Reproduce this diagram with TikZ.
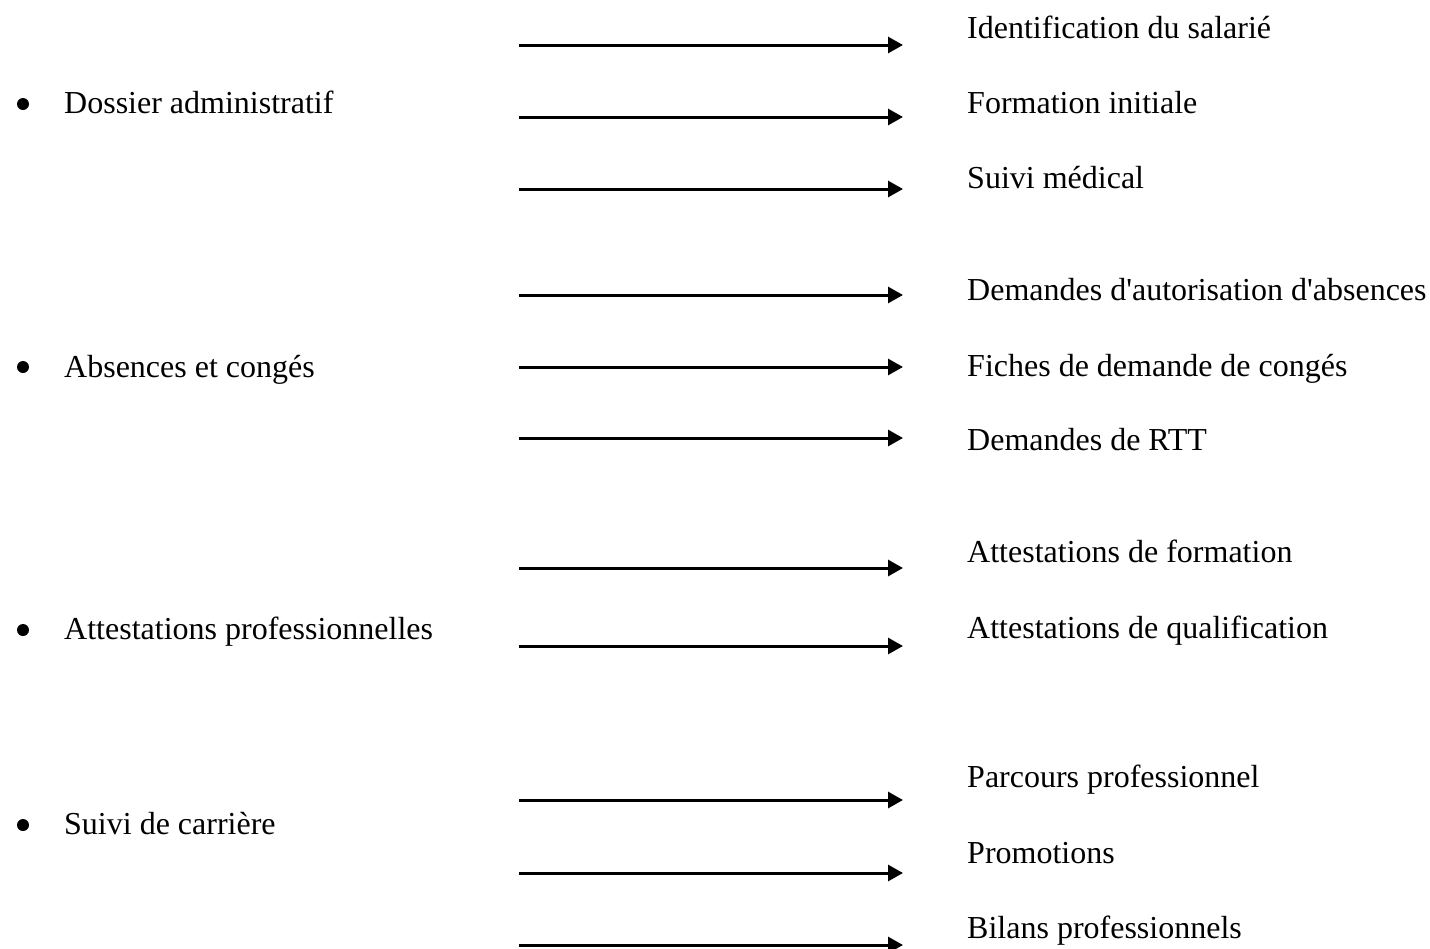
\documentclass[tikz,border=0pt]{standalone}
\usepackage{fontspec}
\setmainfont{Liberation Serif}
\usetikzlibrary{arrows.meta}
\begin{document}
\begin{tikzpicture}[x=1pt,y=-1pt,
  lbl/.style={anchor=base west,inner sep=0pt,font=\fontsize{32}{38}\selectfont},
  arr/.style={line width=3pt,-{Triangle[length=15pt,width=16pt]}},
  bul/.style={circle,fill=black,inner sep=0pt,minimum size=12pt}]
\useasboundingbox (0,0) rectangle (1430,948);
% left items
\node[bul] (b1) at (23,104) {};
\node[lbl] (l1) at (64,113) {Dossier administratif};
\node[bul] (b2) at (23,367) {};
\node[lbl] (l2) at (64,377) {Absences et congés};
\node[bul] (b3) at (23,630) {};
\node[lbl] (l3) at (64,639) {Attestations professionnelles};
\node[bul] (b4) at (23,825) {};
\node[lbl] (l4) at (64,834) {Suivi de carrière};
% right items
\node[lbl] (r1) at (967,38) {Identification du salarié};
\node[lbl] (r2) at (967,113) {Formation initiale};
\node[lbl] (r3) at (967,188) {Suivi médical};
\node[lbl] (r4) at (967,300) {Demandes d\textquotesingle autorisation d\textquotesingle absences};
\node[lbl] (r5) at (967,376) {Fiches de demande de congés};
\node[lbl] (r6) at (967,450) {Demandes de RTT};
\node[lbl] (r7) at (967,562) {Attestations de formation};
\node[lbl] (r8) at (967,638) {Attestations de qualification};
\node[lbl] (r9) at (967,787) {Parcours professionnel};
\node[lbl] (r10) at (967,863) {Promotions};
\node[lbl] (r11) at (967,938) {Bilans professionnels};
% arrows
\foreach \i/\y in {1/45,2/117,3/189,4/295,5/367,6/438,7/568,8/646,9/800,10/873,11/945}{
  \coordinate (s\i) at (519,\y);
  \coordinate (e\i) at (903,\y);
  \draw[arr] (s\i) -- (e\i);
}
\end{tikzpicture}
\end{document}
